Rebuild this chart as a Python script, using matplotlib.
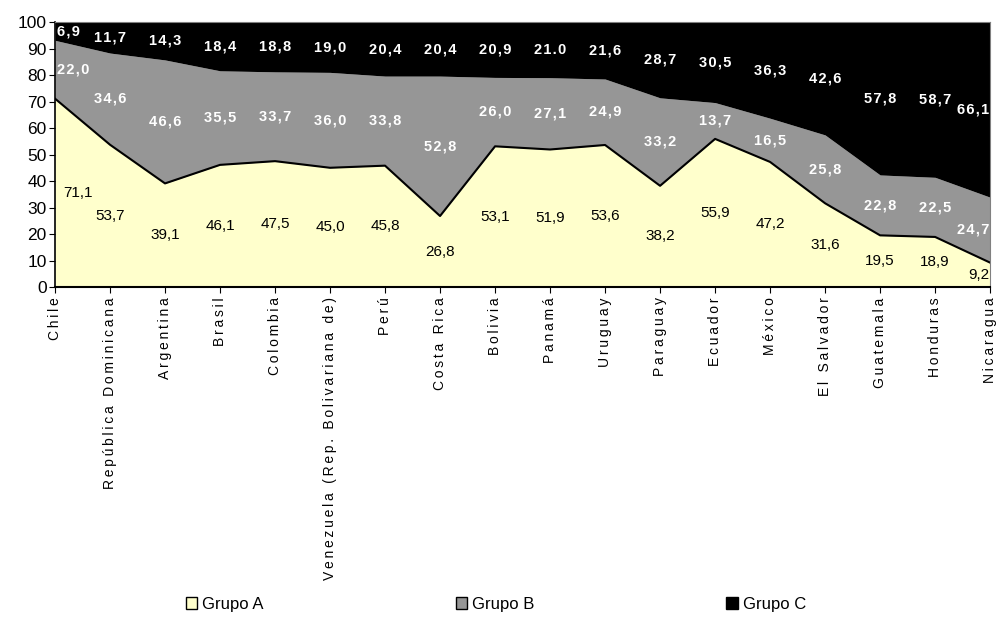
import numpy as np
import matplotlib.pyplot as plt
from matplotlib.patches import Patch

paises = ['Chile', 'República Dominicana', 'Argentina', 'Brasil', 'Colombia',
          'Venezuela (Rep. Bolivariana de)', 'Perú', 'Costa Rica', 'Bolivia',
          'Panamá', 'Uruguay', 'Paraguay', 'Ecuador', 'México', 'El Salvador',
          'Guatemala', 'Honduras', 'Nicaragua']
grupo_a = [71.1, 53.7, 39.1, 46.1, 47.5, 45.0, 45.8, 26.8, 53.1, 51.9, 53.6,
           38.2, 55.9, 47.2, 31.6, 19.5, 18.9, 9.2]
grupo_b = [22.0, 34.6, 46.6, 35.5, 33.7, 36.0, 33.8, 52.8, 26.0, 27.1, 24.9,
           33.2, 13.7, 16.5, 25.8, 22.8, 22.5, 24.7]
grupo_c = [6.9, 11.7, 14.3, 18.4, 18.8, 19.0, 20.4, 20.4, 20.9, 21.0, 21.6,
           28.7, 30.5, 36.3, 42.6, 57.8, 58.7, 66.1]
etiq_c = ['6,9', '11,7', '14,3', '18,4', '18,8', '19,0', '20,4', '20,4', '20,9',
          '21.0', '21,6', '28,7', '30,5', '36,3', '42,6', '57,8', '58,7', '66,1']

plt.rcParams['font.family'] = ['Liberation Sans', 'DejaVu Sans']

a = np.array(grupo_a)
b = np.array(grupo_b)
c = np.array(grupo_c)
x = np.arange(len(paises))

# spaced-out text like the original (Excel style letter spacing)
def spaced(s, sep='\u2009'):
    return sep.join(list(s))

def fmt(v):
    return ('%.1f' % v).replace('.', ',')

fig = plt.figure(figsize=(9.98, 6.17), dpi=100)
ax = fig.add_axes([0.0551, 0.5348, 0.937, 0.4295])

ax.fill_between(x, 0, a, color='#ffffcc', linewidth=0)
ax.fill_between(x, a, a + b, color='#969696', linewidth=0)
ax.fill_between(x, a + b, 100, color='black', linewidth=0)
ax.plot(x, a, color='black', linewidth=1.5)

for i in range(len(x)):
    xp = x[i]
    ha = 'center'
    if i == 0:
        xp = x[i] + 0.03
        ha = 'left'
    elif i == len(x) - 1:
        xp = x[i] - 0.02
        ha = 'right'
    xa = xp + 0.12 if i == 0 else xp
    ax.text(xa, a[i] / 2, fmt(a[i]), ha=ha, va='center', fontsize=11,
            color='black')
    ax.text(xp, a[i] + b[i] / 2, spaced(fmt(b[i]), '\u200a'), ha=ha, va='center',
            fontsize=10.5, color='white', fontweight='bold')
    ax.text(xp, a[i] + b[i] + c[i] / 2, spaced(etiq_c[i], '\u200a'), ha=ha,
            va='center', fontsize=10.5, color='white', fontweight='bold')

ax.set_xlim(0, len(x) - 1)
ax.set_ylim(0, 100)
ax.set_yticks(range(0, 101, 10))
ax.set_xticks(x)
ax.set_xticklabels([spaced(p) for p in paises], rotation=90, fontsize=10)
ax.tick_params(axis='y', labelsize=12.5, length=4, direction='out', pad=2)
ax.tick_params(axis='x', length=4, direction='out')
for s in ['top', 'right']:
    ax.spines[s].set_color('#808080')
    ax.spines[s].set_linewidth(0.8)
ax.spines['left'].set_linewidth(1.2)
ax.spines['bottom'].set_linewidth(1.5)

handles = [Patch(facecolor='#ffffcc', edgecolor='black', label='Grupo A'),
           Patch(facecolor='#969696', edgecolor='black', label='Grupo B'),
           Patch(facecolor='black', edgecolor='black', label='Grupo C')]
fig.legend(handles=handles, loc='center', bbox_to_anchor=(0.497, 0.02), ncol=3,
           frameon=False, fontsize=12, columnspacing=11.5, handlelength=0.7,
           handleheight=0.7, handletextpad=0.3)

plt.savefig('out.png', dpi=100)
